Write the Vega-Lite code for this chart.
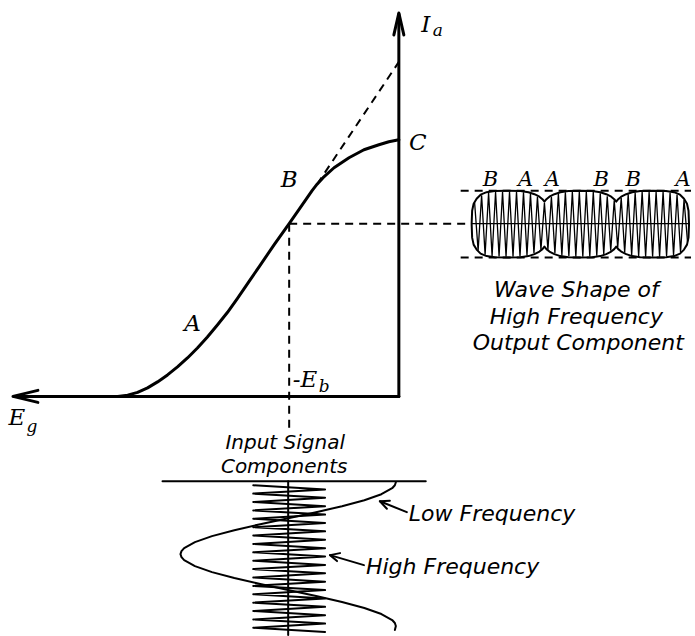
{
  "$schema": "https://vega.github.io/schema/vega-lite/v6.json",
  "width": 695,
  "height": 636,
  "autosize": {"type": "fit", "contains": "padding"},
  "padding": 0,
  "background": "white",
  "config": {"view": {"stroke": null}},
  "datasets": {
    "paths": [
      {"g":"curve","x":118,"y":397},{"g":"curve","x":128,"y":395.8},{"g":"curve","x":138,"y":393},{"g":"curve","x":148,"y":388.5},{"g":"curve","x":158,"y":382.5},{"g":"curve","x":168,"y":375.5},{"g":"curve","x":178,"y":367.5},{"g":"curve","x":188,"y":358.5},{"g":"curve","x":198,"y":348.5},{"g":"curve","x":208,"y":337.5},{"g":"curve","x":218,"y":325.5},{"g":"curve","x":228,"y":313},{"g":"curve","x":238,"y":299},{"g":"curve","x":250,"y":281.5},{"g":"curve","x":260,"y":267},{"g":"curve","x":275,"y":245},{"g":"curve","x":290,"y":224},{"g":"curve","x":305,"y":202.5},{"g":"curve","x":313,"y":191},{"g":"curve","x":318,"y":184.5},{"g":"curve","x":324,"y":178},{"g":"curve","x":335,"y":168},{"g":"curve","x":350,"y":158},{"g":"curve","x":365,"y":150},{"g":"curve","x":380,"y":145},{"g":"curve","x":390,"y":142},{"g":"curve","x":400,"y":140},
      {"g":"vaxis","x":400,"y":397},{"g":"vaxis","x":400,"y":14},
      {"g":"haxis","x":400,"y":397},{"g":"haxis","x":14,"y":397},
      {"g":"arrV","x":395,"y":35},{"g":"arrV","x":400,"y":13},{"g":"arrV","x":405,"y":35},
      {"g":"arrH","x":38,"y":391},{"g":"arrH","x":13,"y":397},{"g":"arrH","x":38,"y":403},
      {"g":"hline","x":163,"y":482},{"g":"hline","x":427,"y":482},
      {"g":"cline","x":289,"y":482},{"g":"cline","x":289,"y":636},
      {"g":"sine","x":397,"y":483},{"g":"sine","x":396,"y":486},{"g":"sine","x":393.3,"y":489},{"g":"sine","x":382.5,"y":495},{"g":"sine","x":365.4,"y":501},{"g":"sine","x":343,"y":507},{"g":"sine","x":317,"y":513},{"g":"sine","x":289,"y":519},{"g":"sine","x":261,"y":525},{"g":"sine","x":235,"y":531},{"g":"sine","x":212.6,"y":537},{"g":"sine","x":195.5,"y":543},{"g":"sine","x":184.7,"y":549},{"g":"sine","x":182,"y":552},{"g":"sine","x":181,"y":555},{"g":"sine","x":182,"y":558},{"g":"sine","x":184.7,"y":561},{"g":"sine","x":195.5,"y":567},{"g":"sine","x":212.6,"y":573},{"g":"sine","x":235,"y":579},{"g":"sine","x":261,"y":585},{"g":"sine","x":289,"y":591},{"g":"sine","x":317,"y":597},{"g":"sine","x":343,"y":603},{"g":"sine","x":365.4,"y":609},{"g":"sine","x":382.5,"y":615},{"g":"sine","x":393.3,"y":621},{"g":"sine","x":396,"y":624},{"g":"sine","x":397,"y":627},{"g":"sine","x":396,"y":631},
      {"g":"zz","x":254,"y":486},{"g":"zz","x":326,"y":490.2},{"g":"zz","x":254,"y":494.4},{"g":"zz","x":326,"y":498.6},{"g":"zz","x":254,"y":502.8},{"g":"zz","x":326,"y":507},{"g":"zz","x":254,"y":511.2},{"g":"zz","x":326,"y":515.4},{"g":"zz","x":254,"y":519.6},{"g":"zz","x":326,"y":523.8},{"g":"zz","x":254,"y":528},{"g":"zz","x":326,"y":532.2},{"g":"zz","x":254,"y":536.4},{"g":"zz","x":326,"y":540.6},{"g":"zz","x":254,"y":544.8},{"g":"zz","x":326,"y":549},{"g":"zz","x":254,"y":553.2},{"g":"zz","x":326,"y":557.4},{"g":"zz","x":254,"y":561.6},{"g":"zz","x":326,"y":565.8},{"g":"zz","x":254,"y":570},{"g":"zz","x":326,"y":574.2},{"g":"zz","x":254,"y":578.4},{"g":"zz","x":326,"y":582.6},{"g":"zz","x":254,"y":586.8},{"g":"zz","x":326,"y":591},{"g":"zz","x":254,"y":595.2},{"g":"zz","x":326,"y":599.4},{"g":"zz","x":254,"y":603.6},{"g":"zz","x":326,"y":607.8},{"g":"zz","x":254,"y":612},{"g":"zz","x":326,"y":616.2},{"g":"zz","x":254,"y":620.4},{"g":"zz","x":326,"y":624.6},{"g":"zz","x":254,"y":628.8},{"g":"zz","x":326,"y":633},
      {"g":"env","x":473,"y":224},{"g":"env","x":473.5,"y":211},{"g":"env","x":475,"y":204},{"g":"env","x":478,"y":199},{"g":"env","x":482,"y":195},{"g":"env","x":488,"y":192.5},{"g":"env","x":496,"y":191.3},{"g":"env","x":509,"y":191},{"g":"env","x":522,"y":191.3},{"g":"env","x":530,"y":192.5},{"g":"env","x":536,"y":194.5},{"g":"env","x":541,"y":197},{"g":"env","x":544,"y":199.5},{"g":"env","x":546,"y":202},{"g":"env","x":548,"y":199.5},{"g":"env","x":551,"y":197},{"g":"env","x":556,"y":194.5},{"g":"env","x":562,"y":192.5},{"g":"env","x":570,"y":191.3},{"g":"env","x":582,"y":191},{"g":"env","x":594,"y":191.3},{"g":"env","x":602,"y":192.5},{"g":"env","x":608,"y":194.5},{"g":"env","x":613,"y":197},{"g":"env","x":616,"y":199.5},{"g":"env","x":618,"y":202},{"g":"env","x":620,"y":199.5},{"g":"env","x":623,"y":197},{"g":"env","x":628,"y":194.5},{"g":"env","x":634,"y":192.5},{"g":"env","x":642,"y":191.3},{"g":"env","x":655,"y":191},{"g":"env","x":668,"y":191.3},{"g":"env","x":676,"y":192.5},{"g":"env","x":682,"y":195},{"g":"env","x":686,"y":199},{"g":"env","x":689,"y":204},{"g":"env","x":690.5,"y":211},{"g":"env","x":691,"y":224},{"g":"env","x":691,"y":225},{"g":"env","x":690.5,"y":238},{"g":"env","x":689,"y":245},{"g":"env","x":686,"y":250},{"g":"env","x":682,"y":254},{"g":"env","x":676,"y":256.5},{"g":"env","x":668,"y":257.7},{"g":"env","x":655,"y":258},{"g":"env","x":642,"y":257.7},{"g":"env","x":634,"y":256.5},{"g":"env","x":628,"y":254.5},{"g":"env","x":623,"y":252},{"g":"env","x":620,"y":249.5},{"g":"env","x":618,"y":247},{"g":"env","x":616,"y":249.5},{"g":"env","x":613,"y":252},{"g":"env","x":608,"y":254.5},{"g":"env","x":602,"y":256.5},{"g":"env","x":594,"y":257.7},{"g":"env","x":582,"y":258},{"g":"env","x":570,"y":257.7},{"g":"env","x":562,"y":256.5},{"g":"env","x":556,"y":254.5},{"g":"env","x":551,"y":252},{"g":"env","x":548,"y":249.5},{"g":"env","x":546,"y":247},{"g":"env","x":544,"y":249.5},{"g":"env","x":541,"y":252},{"g":"env","x":536,"y":254.5},{"g":"env","x":530,"y":256.5},{"g":"env","x":522,"y":257.7},{"g":"env","x":509,"y":258},{"g":"env","x":496,"y":257.7},{"g":"env","x":488,"y":256.5},{"g":"env","x":482,"y":254},{"g":"env","x":478,"y":250},{"g":"env","x":475,"y":245},{"g":"env","x":473.5,"y":238},{"g":"env","x":473,"y":224},
      {"g":"arrL","x":408,"y":513},{"g":"arrL","x":381,"y":502},
      {"g":"arrLh","x":388,"y":509.5},{"g":"arrLh","x":381,"y":502},{"g":"arrLh","x":391,"y":501.5},
      {"g":"arrHF","x":365,"y":566},{"g":"arrHF","x":331,"y":556},
      {"g":"arrHFh","x":338,"y":562},{"g":"arrHFh","x":331,"y":556},{"g":"arrHFh","x":341,"y":554},
      {"g":"wc","x":473,"y":224},{"g":"wc","x":691,"y":224},
      {"g":"wz","x":476,"y":203},{"g":"wz","x":479.5,"y":251},{"g":"wz","x":483,"y":195.5},{"g":"wz","x":486.5,"y":255},{"g":"wz","x":490,"y":193},{"g":"wz","x":493.5,"y":256.5},{"g":"wz","x":497,"y":192.3},{"g":"wz","x":500.5,"y":256.8},{"g":"wz","x":504,"y":192},{"g":"wz","x":507.5,"y":257},{"g":"wz","x":511,"y":192},{"g":"wz","x":514.5,"y":257},{"g":"wz","x":518,"y":192},{"g":"wz","x":521.5,"y":256.8},{"g":"wz","x":525,"y":192.6},{"g":"wz","x":528.5,"y":255.8},{"g":"wz","x":532,"y":194},{"g":"wz","x":535.5,"y":253.7},{"g":"wz","x":539,"y":197},{"g":"wz","x":542.5,"y":250},{"g":"wz","x":546,"y":203},{"g":"wz","x":549.5,"y":250},{"g":"wz","x":553,"y":197},{"g":"wz","x":556.5,"y":253.7},{"g":"wz","x":560,"y":194},{"g":"wz","x":563.5,"y":255.8},{"g":"wz","x":567,"y":192.6},{"g":"wz","x":570.5,"y":256.7},{"g":"wz","x":574,"y":192},{"g":"wz","x":577.5,"y":257},{"g":"wz","x":581,"y":192},{"g":"wz","x":584.5,"y":257},{"g":"wz","x":588,"y":192},{"g":"wz","x":591.5,"y":256.8},{"g":"wz","x":595,"y":192.3},{"g":"wz","x":598.5,"y":256.2},{"g":"wz","x":602,"y":193.5},{"g":"wz","x":605.5,"y":254.5},{"g":"wz","x":609,"y":196.5},{"g":"wz","x":612.5,"y":251},{"g":"wz","x":616,"y":200.5},{"g":"wz","x":619.5,"y":248},{"g":"wz","x":623,"y":198},{"g":"wz","x":626.5,"y":252.8},{"g":"wz","x":630,"y":194.7},{"g":"wz","x":633.5,"y":255.5},{"g":"wz","x":637,"y":192.8},{"g":"wz","x":640.5,"y":256.6},{"g":"wz","x":644,"y":192.1},{"g":"wz","x":647.5,"y":257},{"g":"wz","x":651,"y":192},{"g":"wz","x":654.5,"y":257},{"g":"wz","x":658,"y":192},{"g":"wz","x":661.5,"y":257},{"g":"wz","x":665,"y":192.2},{"g":"wz","x":668.5,"y":256.6},{"g":"wz","x":672,"y":192.8},{"g":"wz","x":675.5,"y":255.5},{"g":"wz","x":679,"y":194.8},{"g":"wz","x":682.5,"y":252.7},{"g":"wz","x":686,"y":200},{"g":"wz","x":689.5,"y":242},
      {"g":"tan","x":318,"y":184.5},{"g":"tan","x":400,"y":62},
      {"g":"dv","x":290,"y":224},{"g":"dv","x":290,"y":432},
      {"g":"dh","x":290,"y":224},{"g":"dh","x":470,"y":224},
      {"g":"dt","x":462,"y":191},{"g":"dt","x":693,"y":191},
      {"g":"db","x":462,"y":258},{"g":"db","x":693,"y":258}
    ],
    "labels": [
      {"k":"math","t":"A","x":193,"y":325},
      {"k":"math","t":"B","x":290,"y":180},
      {"k":"math","t":"C","x":419,"y":143},
      {"k":"math","t":"I","x":427,"y":25},
      {"k":"math","t":"E","x":17,"y":419},
      {"k":"math","t":"-E","x":306,"y":381},
      {"k":"sub","t":"a","x":439,"y":31},
      {"k":"sub","t":"g","x":32,"y":428},
      {"k":"sub","t":"b","x":325,"y":388},
      {"k":"wl","t":"B","x":492,"y":180},
      {"k":"wl","t":"A","x":527,"y":180},
      {"k":"wl","t":"A","x":554,"y":180},
      {"k":"wl","t":"B","x":603,"y":180},
      {"k":"wl","t":"B","x":635,"y":180},
      {"k":"wl","t":"A","x":685,"y":180},
      {"k":"word","t":"Wave Shape of","x":578,"y":290},
      {"k":"word","t":"High Frequency","x":578,"y":317},
      {"k":"word","t":"Output Component","x":580,"y":344},
      {"k":"word2","t":"Input Signal","x":286,"y":444},
      {"k":"word2","t":"Components","x":285,"y":468},
      {"k":"wordL","t":"Low Frequency","x":410,"y":515},
      {"k":"wordL","t":"High Frequency","x":367,"y":568}
    ]
  },
  "encoding": {
    "x": {"field": "x", "type": "quantitative", "scale": {"domain": [0, 695], "nice": false, "zero": false}, "axis": null},
    "y": {"field": "y", "type": "quantitative", "scale": {"domain": [0, 636], "reverse": true, "nice": false, "zero": false}, "axis": null}
  },
  "layer": [
    {
      "data": {"name": "paths"},
      "transform": [{"filter": {"field": "g", "oneOf": ["curve", "vaxis", "haxis", "arrV", "arrH"]}}],
      "mark": {"type": "line", "color": "black", "strokeWidth": 3, "strokeCap": "round", "strokeJoin": "round"},
      "encoding": {"detail": {"field": "g", "type": "nominal"}, "order": {"value": null}}
    },
    {
      "data": {"name": "paths"},
      "transform": [{"filter": {"field": "g", "oneOf": ["hline", "cline", "sine", "zz", "env", "arrL", "arrLh", "arrHF", "arrHFh"]}}],
      "mark": {"type": "line", "color": "black", "strokeWidth": 2, "strokeCap": "round", "strokeJoin": "round"},
      "encoding": {"detail": {"field": "g", "type": "nominal"}, "order": {"value": null}}
    },
    {
      "data": {"name": "paths"},
      "transform": [{"filter": {"field": "g", "oneOf": ["wz", "wc"]}}],
      "mark": {"type": "line", "color": "black", "strokeWidth": 1.3, "strokeJoin": "miter"},
      "encoding": {"detail": {"field": "g", "type": "nominal"}, "order": {"value": null}}
    },
    {
      "data": {"name": "paths"},
      "transform": [{"filter": {"field": "g", "oneOf": ["tan", "dv", "dh", "dt", "db"]}}],
      "mark": {"type": "line", "color": "black", "strokeWidth": 2, "strokeDash": [8, 6]},
      "encoding": {"detail": {"field": "g", "type": "nominal"}, "order": {"value": null}}
    },
    {
      "data": {"name": "labels"},
      "transform": [{"filter": {"field": "k", "equal": "math"}}],
      "mark": {"type": "text", "font": "DejaVu Serif", "fontStyle": "italic", "fontSize": 23, "baseline": "middle", "align": "center", "color": "black"},
      "encoding": {"text": {"field": "t"}}
    },
    {
      "data": {"name": "labels"},
      "transform": [{"filter": {"field": "k", "equal": "wl"}}],
      "mark": {"type": "text", "font": "DejaVu Serif", "fontStyle": "italic", "fontSize": 21, "baseline": "middle", "align": "center", "color": "black"},
      "encoding": {"text": {"field": "t"}}
    },
    {
      "data": {"name": "labels"},
      "transform": [{"filter": {"field": "k", "equal": "sub"}}],
      "mark": {"type": "text", "font": "DejaVu Serif", "fontStyle": "italic", "fontSize": 17, "baseline": "middle", "align": "center", "color": "black"},
      "encoding": {"text": {"field": "t"}}
    },
    {
      "data": {"name": "labels"},
      "transform": [{"filter": {"field": "k", "equal": "word"}}],
      "mark": {"type": "text", "font": "DejaVu Sans", "fontStyle": "italic", "fontSize": 22, "baseline": "middle", "align": "center", "color": "black"},
      "encoding": {"text": {"field": "t"}}
    },
    {
      "data": {"name": "labels"},
      "transform": [{"filter": {"field": "k", "equal": "word2"}}],
      "mark": {"type": "text", "font": "DejaVu Sans", "fontStyle": "italic", "fontSize": 20, "baseline": "middle", "align": "center", "color": "black"},
      "encoding": {"text": {"field": "t"}}
    },
    {
      "data": {"name": "labels"},
      "transform": [{"filter": {"field": "k", "equal": "wordL"}}],
      "mark": {"type": "text", "font": "DejaVu Sans", "fontStyle": "italic", "fontSize": 22, "baseline": "middle", "align": "left", "color": "black"},
      "encoding": {"text": {"field": "t"}}
    }
  ]
}
